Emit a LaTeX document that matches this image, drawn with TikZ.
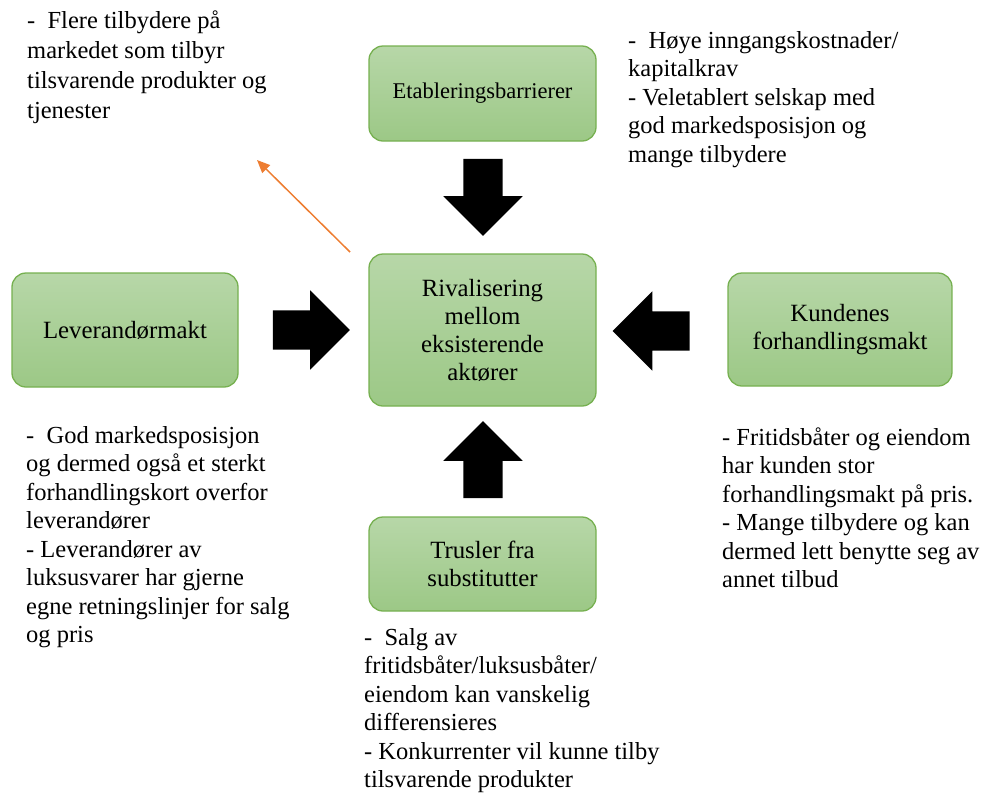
\documentclass[tikz,border=0pt]{standalone}
\usepackage{fontspec}
\setmainfont{Liberation Serif}
\usetikzlibrary{shapes.arrows,arrows.meta}
\definecolor{boxtop}{RGB}{183,215,168}
\definecolor{boxbot}{RGB}{156,200,134}
\definecolor{boxline}{RGB}{118,176,80}
\definecolor{orangeline}{RGB}{237,125,49}
\tikzset{
  forcebox/.style={rectangle, rounded corners=14pt, draw=boxline, line width=1.3pt,
    top color=boxtop, bottom color=boxbot, minimum width=227pt, align=center,
    font=\fontsize{24.8}{28}\selectfont, inner sep=0pt},
  blockarrow/.style={single arrow, fill=black, draw=none, minimum height=77pt,
    single arrow head extend=20pt, single arrow tip angle=90, inner sep=19.5pt},
  note/.style={anchor=base west, inner sep=0pt, align=left, font=\fontsize{24.5}{28.5}\selectfont}
}
\begin{document}
\begin{tikzpicture}[x=1pt,y=-1pt]
\useasboundingbox (0,0) rectangle (986,796);
% boxes
\node[forcebox, minimum height=95pt, font=\fontsize{22.5}{27}\selectfont] (etab) at (482.5,93.5) {Etableringsbarrierer};
\node[forcebox, minimum height=152pt] (riv) at (482.5,330) {Rivalisering\\mellom\\eksisterende\\aktører};
\node[forcebox, minimum width=226pt, minimum height=114pt] (lev) at (125,330) {Leverandørmakt};
\node[forcebox, minimum width=224pt, minimum height=113pt] (kund) at (840,329.5) {Kundenes\\forhandlingsmakt};
\node[forcebox, minimum height=94pt] (trus) at (482.5,564) {Trusler fra\\substitutter};
% block arrows
\node[blockarrow, shape border rotate=270] (adown) at (483,187.5) {};
\node[blockarrow, shape border rotate=90] (aup) at (483,469.5) {};
\node[blockarrow, shape border rotate=0] (aright) at (301.5,330) {};
\node[blockarrow, shape border rotate=180] (aleft) at (661,331) {};
% orange arrow
\coordinate (ostart) at (350,252);
\coordinate (oend) at (257,160);
\draw[orangeline, line width=1.5pt, -{Triangle[length=13pt,width=11pt]}] (ostart) -- (oend);
% notes (base anchor = baseline of the last line)
\node[note, font=\fontsize{24.5}{29.7}\selectfont] (t1) at (27,118) {-~ Flere tilbydere på\\markedet som tilbyr\\tilsvarende produkter og\\tjenester};
\node[note] (t2) at (628,162) {-~ Høye inngangskostnader/\\kapitalkrav\\- Veletablert selskap med\\god markedsposisjon og\\mange tilbydere};
\node[note] (t3) at (26,642.5) {-~ God markedsposisjon\\og dermed også et sterkt\\forhandlingskort overfor\\leverandører\\- Leverandører av\\luksusvarer har gjerne\\egne retningslinjer for salg\\og pris};
\node[note] (t4) at (722,587.5) {- Fritidsbåter og eiendom\\har kunden stor\\forhandlingsmakt på pris.\\- Mange tilbydere og kan\\dermed lett benytte seg av\\annet tilbud};
\node[note] (t5) at (364,787.5) {-~ Salg av\\fritidsbåter/luksusbåter/\\eiendom kan vanskelig\\differensieres\\- Konkurrenter vil kunne tilby\\tilsvarende produkter};
\end{tikzpicture}
\end{document}
